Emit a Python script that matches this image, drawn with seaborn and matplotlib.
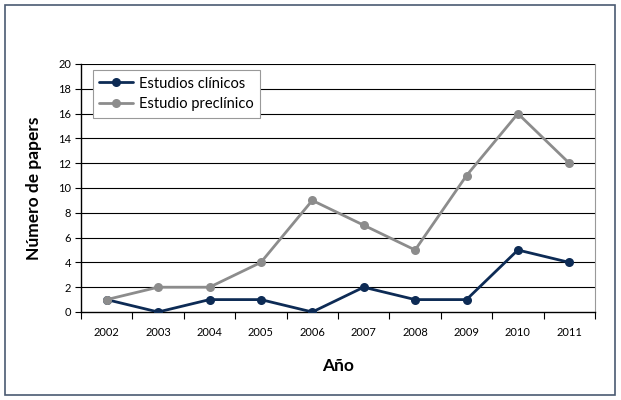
import numpy as np
import matplotlib
matplotlib.use('Agg')
import matplotlib.pyplot as plt
import matplotlib.patches as patches
import pandas as pd
import seaborn as sns

#  data
years = ['2002', '2003', '2004', '2005', '2006', '2007', '2008', '2009', '2010', '2011']
clinicos = [1, 0, 1, 1, 0, 2, 1, 1, 5, 4]
preclinicos = [1, 2, 2, 4, 9, 7, 5, 11, 16, 12]
series_names = ['Estudios clínicos', 'Estudio preclínico']
series_colors = ['#0d2b55', '#8c8c8c']

df = pd.DataFrame({
    'pos': list(range(len(years))) * 2,
    'valor': clinicos + preclinicos,
    'serie': [series_names[0]] * len(years) + [series_names[1]] * len(years),
})

sns.set_theme(style='white')
plt.rcParams['font.family'] = ['Lato', 'DejaVu Sans']
plt.rcParams['text.color'] = 'black'
plt.rcParams['axes.labelcolor'] = 'black'
plt.rcParams['xtick.color'] = 'black'
plt.rcParams['ytick.color'] = 'black'

fig = plt.figure(figsize=(6.21, 4.0), dpi=100)
ax = fig.add_axes([81 / 621, 1 - 312 / 400, (595 - 81) / 621, (312 - 64) / 400])

#  outer frame round the whole chart
fig.patches.append(patches.Rectangle((5 / 621, 5 / 400), 610 / 621, 390 / 400,
                                     transform=fig.transFigure, fill=False,
                                     edgecolor='#4a5a72', linewidth=1.2))

#  horizontal grid lines
for y in range(2, 21, 2):
    ax.axhline(y, color='black', linewidth=0.8, zorder=0)

sns.lineplot(data=df, x='pos', y='valor', hue='serie', palette=series_colors,
             hue_order=series_names, marker='o', markersize=6.5, markeredgewidth=0,
             linewidth=2, ax=ax, zorder=3)

ax.set_xlim(-0.5, len(years) - 0.5)
ax.set_ylim(0, 20)
ax.set_yticks(range(0, 21, 2))
ax.tick_params(axis='y', labelsize=8, length=4, width=0.8, color='black', direction='out', left=True, pad=3)

#  ticks between categories, labels at centres
ax.set_xticks(np.arange(-0.5, len(years), 1))
ax.set_xticklabels([])
ax.set_xticks(range(len(years)), minor=True)
ax.set_xticklabels(years, minor=True, fontsize=8)
ax.tick_params(axis='x', which='major', length=5, width=0.8, color='black', direction='out', bottom=True)
ax.tick_params(axis='x', which='minor', length=0, pad=11)

for side in ['left', 'bottom']:
    ax.spines[side].set_color('black')
    ax.spines[side].set_linewidth(1)
ax.spines['top'].set_visible(False)
ax.spines['right'].set_color('#999999')
ax.spines['right'].set_linewidth(0.8)

ax.set_xlabel('Año', fontsize=12.5, fontweight='bold', labelpad=14)
ax.set_ylabel('Número de papers', fontsize=12.5, fontweight='bold', labelpad=12)

leg = ax.legend(loc='upper left', bbox_to_anchor=(0.023, 0.976), borderaxespad=0,
                fontsize=10.5, frameon=True, fancybox=False, borderpad=0.45,
                handlelength=2.3, labelspacing=0.45, handletextpad=0.4)
leg.get_frame().set_edgecolor('#999999')
leg.get_frame().set_linewidth(0.8)
leg.get_frame().set_alpha(1)

fig.savefig('out.png', dpi=100)
